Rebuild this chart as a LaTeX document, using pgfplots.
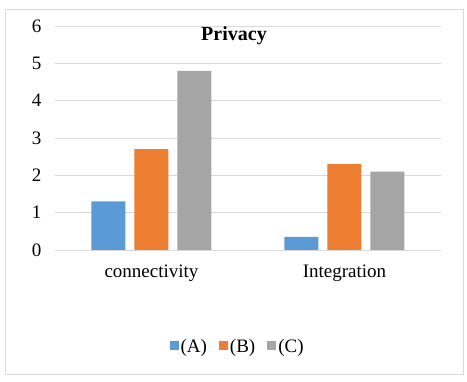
\documentclass[border=0pt]{standalone}
\usepackage{fontspec}
\setmainfont{Liberation Serif}
\usepackage{pgfplots}
\pgfplotsset{compat=1.18}
\definecolor{cA}{HTML}{5B9BD5}
\definecolor{cB}{HTML}{ED7D31}
\definecolor{cC}{HTML}{A5A5A5}
\definecolor{gridc}{HTML}{D9D9D9}
\begin{document}
\begin{tikzpicture}[x=1pt,y=1pt]
\path (0,0) rectangle (467,382);
\draw[gridc, line width=0.9pt] (5,8) rectangle (463,373);
\begin{axis}[
  at={(55pt,132pt)}, anchor=south west,
  width=386pt, height=224pt, scale only axis,
  xmin=-0.5, xmax=1.5, ymin=0, ymax=6,
  ytick={0,1,2,3,4,5,6},
  xtick={0,1}, xticklabels={connectivity,Integration},
  ymajorgrids, grid style={gridc, line width=0.8pt},
  axis line style={draw=none},
  major tick length=0pt,
  /pgf/number format/assume math mode=true,
  tick label style={font=\fontsize{19}{21}\selectfont},
  yticklabel style={xshift=-10pt},
  xticklabel style={anchor=base, yshift=-28pt},
  title={Privacy},
  title style={font=\fontsize{20}{22}\selectfont\bfseries, at={(axis description cs:0.4637,0.91)}, anchor=base},
  ybar=9pt, bar width=34pt,
  legend style={draw=none, fill=none, at={(axis description cs:0.473,-0.431)}, anchor=center,
    font=\fontsize{19}{21}\selectfont, legend columns=-1,
    /tikz/every even column/.append style={column sep=10pt}},
  legend image code/.code={\fill[#1] (0pt,-3pt) rectangle (9pt,6pt);},
]
\addplot[fill=cA, draw=none] coordinates {(0,1.3) (1,0.35)};
\addplot[fill=cB, draw=none] coordinates {(0,2.7) (1,2.3)};
\addplot[fill=cC, draw=none] coordinates {(0,4.8) (1,2.1)};
\legend{(A),(B),(C)}
\end{axis}
\end{tikzpicture}
\end{document}
